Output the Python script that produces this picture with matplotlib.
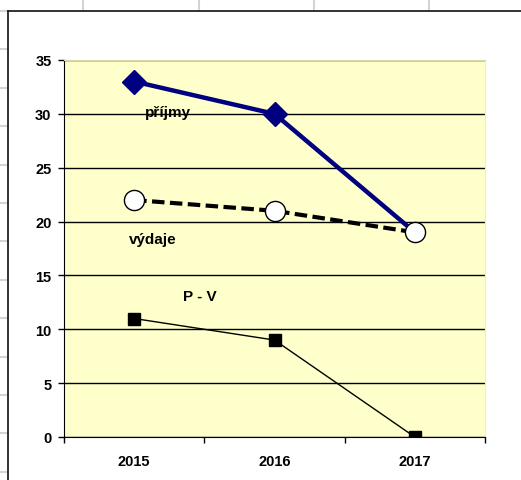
import matplotlib
matplotlib.use("Agg")
import matplotlib.pyplot as plt
from matplotlib.lines import Line2D

plt.rcParams["font.family"] = ["Liberation Sans", "DejaVu Sans"]

# data
roky = ["2015", "2016", "2017"]
prijmy = [33, 30, 19]
vydaje = [22, 21, 19]
p_v = [11, 9, 0]

W, H = 521, 481
fig = plt.figure(figsize=(W / 100, H / 100), dpi=100)
fig.patch.set_facecolor("white")

# spreadsheet grid behind the chart object
grid_c = "#d4d4d4"
for gx in [83, 199, 314, 429]:
    fig.add_artist(Line2D([gx / W, gx / W], [1, 1 - 12 / H], color=grid_c, lw=1.5))
for k in range(13):
    gy = 12 + 38.4 * k
    fig.add_artist(Line2D([0, 8 / W], [1 - gy / H, 1 - gy / H], color=grid_c, lw=1.5))
# chart frame
fig.add_artist(Line2D([8 / W, 8 / W], [0, 1 - 12 / H], color="#222222", lw=1.3))
fig.add_artist(Line2D([8 / W, 1], [1 - 12 / H, 1 - 12 / H], color="#222222", lw=1.3))

ax = fig.add_axes([64 / W, 43 / H, 421 / W, 377 / H])
ax.set_facecolor("#ffffcc")

x = range(len(roky))
# posledni kosoctverec je schovany pod kolečkem výdajů
ax.plot(x, prijmy, color="#000080", lw=3.2, marker="D", ms=12, markevery=[0, 1], zorder=4)
ax.plot(x, vydaje, color="black", lw=3, ls=(0, (3, 1.3)), marker="o", ms=14.5,
        mfc="white", mec="black", mew=1, zorder=4)
ax.plot(x, p_v, color="black", lw=1, marker="s", ms=8.5, zorder=4)

ax.set_xlim(-0.5, 2.5)
ax.set_ylim(0, 35)
ax.set_yticks(range(0, 36, 5))
ax.yaxis.grid(True, color="black", lw=1)
ax.set_axisbelow(True)
ax.set_xticks(x)
ax.set_xticklabels(roky)
ax.set_xticks([-0.5, 0.5, 1.5, 2.5], minor=True)
ax.tick_params(axis="x", which="major", length=0, pad=12)
ax.tick_params(axis="x", which="minor", length=4, width=1, direction="out")
ax.tick_params(axis="y", length=4, width=1, direction="out", pad=5)
for lab in ax.get_xticklabels() + ax.get_yticklabels():
    lab.set_fontweight("bold")
    lab.set_fontsize(10.5)

ax.spines["top"].set_color("#d8d8a8")
ax.spines["right"].set_color("#f2f2b0")
ax.spines["left"].set_color("black")
ax.spines["bottom"].set_color("black")

for txt, tx, ty in [("příjmy", 0.24, 30.2), ("výdaje", 0.13, 18.4), ("P - V", 0.47, 13.1)]:
    ax.text(tx, ty, txt, ha="center", va="center", fontsize=11, fontweight="bold")

fig.savefig("out.png", dpi=100)
